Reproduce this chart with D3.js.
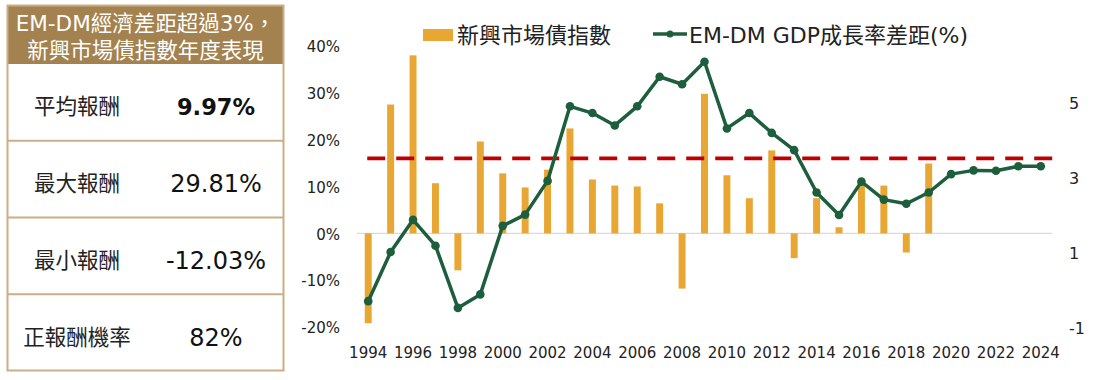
<!DOCTYPE html>
<html>
<head>
<meta charset="utf-8">
<script src="https://cdn.jsdelivr.net/npm/d3@7/dist/d3.min.js"></script>
<style>
  html, body { margin: 0; padding: 0; background: #fff; }
  svg { display: block; }
  text { font-family: "DejaVu Sans", "Noto Sans CJK TC", sans-serif; }
</style>
</head>
<body>
<svg id="chart" width="1100" height="380"></svg>
<script>
// ---- data ----
const years = d3.range(1994, 2025);
const bondReturns = [-19.2, 27.5, 38.0, 10.7, -7.9, 19.6, 12.8, 9.8, 13.6, 22.4, 11.5, 10.2, 10.0, 6.4, -11.8, 29.8, 12.4, 7.5, 17.7, -5.3, 7.5, 1.3, 10.8, 10.2, -4.1, 14.9, null, null, null, null, null];
const gdpGap = [-0.31, 1.0, 1.86, 1.17, -0.49, -0.13, 1.7, 2.0, 2.9, 4.89, 4.71, 4.38, 4.89, 5.68, 5.48, 6.08, 4.3, 4.71, 4.18, 3.72, 2.59, 1.99, 2.88, 2.4, 2.29, 2.59, 3.08, 3.18, 3.17, 3.29, 3.29];
const thresholdGap = 3.5;
const leftTicks = [-20, -10, 0, 10, 20, 30, 40];
const rightTicks = [-1, 1, 3, 5];
const yearTicks = d3.range(1994, 2025, 2);
const legendLabels = ["新興市場債指數", "EM-DM GDP成長率差距(%)"];
const tableTitle = ["EM-DM經濟差距超過3%，", "新興市場債指數年度表現"];
const tableLabels = ["平均報酬", "最大報酬", "最小報酬", "正報酬機率"];
const tableValues = ["9.97%", "29.81%", "-12.03%", "82%"];

// ---- styles ----
const barColor = "#e8a633";
const lineColor = "#1d5e3d";
const dashColor = "#c00000";
const headColor = "#a3824f";
const borderColor = "#c9ae86";

const svg = d3.select("#chart");

// ---- table ----
const tbl = { x: 7, y: 5, w: 277, headH: 59, bottom: 371 };
const rowScale = d3.scaleBand().domain(tableLabels).range([tbl.y + tbl.headH, tbl.bottom]);
const tg = svg.append("g");
tg.append("rect").attr("x", tbl.x).attr("y", tbl.y).attr("width", tbl.w).attr("height", tbl.headH)
  .attr("fill", headColor);
tg.append("rect").attr("x", tbl.x + 0.5).attr("y", tbl.y + 0.5).attr("width", tbl.w - 1).attr("height", tbl.bottom - tbl.y - 1)
  .attr("fill", "none").attr("stroke", borderColor).attr("stroke-width", 2);
tableTitle.forEach((t, i) => {
  tg.append("text").attr("x", tbl.x + tbl.w / 2).attr("y", 31 + i * 26.5)
    .attr("text-anchor", "middle").attr("fill", "#fff").attr("font-size", 21.5).text(t);
});
tableLabels.forEach((lab, i) => {
  const y0 = rowScale(lab);
  if (i > 0) {
    tg.append("line").attr("x1", tbl.x).attr("x2", tbl.x + tbl.w).attr("y1", y0).attr("y2", y0)
      .attr("stroke", borderColor).attr("stroke-width", 2);
  }
  const cy = y0 + rowScale.bandwidth() / 2 + 4;
  tg.append("text").attr("x", 77).attr("y", cy + 8).attr("text-anchor", "middle")
    .attr("font-size", 21.5).attr("fill", "#222").text(lab);
  tg.append("text").attr("x", 216).attr("y", cy + 9).attr("text-anchor", "middle")
    .attr("font-size", i === 0 ? 22.5 : 24).attr("font-weight", i === 0 ? 600 : 400).attr("fill", "#111").text(tableValues[i]);
});

// ---- chart scales ----
const x = d3.scaleBand().domain(years).range([357, 1052]).paddingInner(0.69).paddingOuter(0.345);
const xc = d => x(d) + x.bandwidth() / 2;
const yL = d3.scaleLinear().domain([-20, 40]).range([327, 46]);
const yR = d3.scaleLinear().domain([-1, 6.5]).range([327, 46]);

// zero line
svg.append("line").attr("x1", 357).attr("x2", 1052).attr("y1", yL(0)).attr("y2", yL(0))
  .attr("stroke", "#d9d9d9").attr("stroke-width", 1.3);

// bars
const barData = years.map((yr, i) => ({ yr, v: bondReturns[i] })).filter(d => d.v !== null);
svg.append("g").selectAll("rect").data(barData).join("rect")
  .attr("x", d => x(d.yr))
  .attr("width", x.bandwidth())
  .attr("y", d => yL(Math.max(0, d.v)))
  .attr("height", d => Math.abs(yL(d.v) - yL(0)))
  .attr("fill", barColor);

// threshold dashed line
svg.append("line")
  .attr("x1", xc(1994) - 1).attr("x2", xc(2024) + 17)
  .attr("y1", yR(thresholdGap)).attr("y2", yR(thresholdGap))
  .attr("stroke", dashColor).attr("stroke-width", 3.8).attr("stroke-dasharray", "18,11");

// line
const lineData = years.map((yr, i) => ({ yr, v: gdpGap[i] }));
svg.append("path").datum(lineData)
  .attr("d", d3.line().x(d => xc(d.yr)).y(d => yR(d.v)))
  .attr("fill", "none").attr("stroke", lineColor).attr("stroke-width", 3.5).attr("stroke-linejoin", "round");
svg.append("g").selectAll("circle").data(lineData).join("circle")
  .attr("cx", d => xc(d.yr)).attr("cy", d => yR(d.v)).attr("r", 4.3).attr("fill", lineColor);

// axes
const axL = svg.append("g").attr("transform", "translate(340,0)")
  .call(d3.axisLeft(yL).tickValues(leftTicks).tickFormat(d => d + "%").tickSize(0).tickPadding(0));
const axR = svg.append("g").attr("transform", "translate(1069,0)")
  .call(d3.axisRight(yR).tickValues(rightTicks).tickFormat(d => String(d)).tickSize(0).tickPadding(0));
const axB = svg.append("g").attr("transform", "translate(0,347)")
  .call(d3.axisBottom(x).tickValues(yearTicks).tickSize(0).tickPadding(0));
[axL, axR, axB].forEach(a => {
  a.select(".domain").remove();
  a.selectAll("text").attr("font-family", "'DejaVu Sans', sans-serif").attr("fill", "#222");
});
axL.selectAll("text").attr("font-size", 15).attr("dy", "0.38em");
axR.selectAll("text").attr("font-size", 16).attr("dy", "0.38em");
axB.selectAll("text").attr("font-size", 15).attr("dy", "0.71em");

// legend
const lg = svg.append("g");
lg.append("rect").attr("x", 423).attr("y", 29).attr("width", 30).attr("height", 12).attr("fill", barColor);
lg.append("text").attr("x", 457).attr("y", 43).attr("font-size", 22).attr("fill", "#222").text(legendLabels[0]);
lg.append("line").attr("x1", 653).attr("x2", 687).attr("y1", 34).attr("y2", 34)
  .attr("stroke", lineColor).attr("stroke-width", 3.5);
lg.append("circle").attr("cx", 670).attr("cy", 34).attr("r", 3.5).attr("fill", lineColor);
lg.append("text").attr("x", 689).attr("y", 43).attr("font-size", 22).attr("fill", "#222").text(legendLabels[1]);
</script>
</body>
</html>
